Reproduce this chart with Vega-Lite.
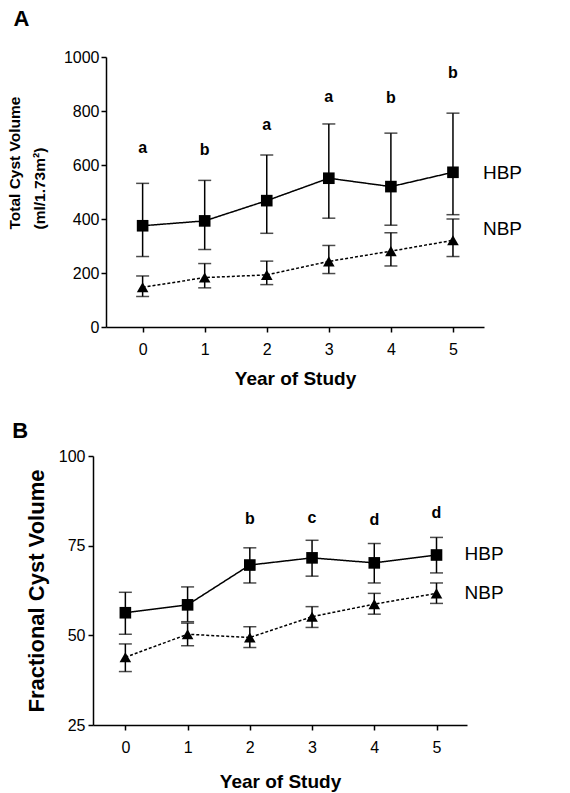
{
  "$schema": "https://vega.github.io/schema/vega-lite/v6.json",
  "padding": {"left": 7, "top": 8, "right": 5, "bottom": 5},
  "background": "white",
  "datasets": {
    "A": [
      {"year": 0, "group": "HBP", "mean": 375, "lo": 261, "hi": 532},
      {"year": 1, "group": "HBP", "mean": 393, "lo": 287, "hi": 543},
      {"year": 2, "group": "HBP", "mean": 468, "lo": 347, "hi": 637},
      {"year": 3, "group": "HBP", "mean": 551, "lo": 403, "hi": 752},
      {"year": 4, "group": "HBP", "mean": 520, "lo": 377, "hi": 718},
      {"year": 5, "group": "HBP", "mean": 573, "lo": 416, "hi": 792},
      {"year": 0, "group": "NBP", "mean": 147, "lo": 113, "hi": 189},
      {"year": 1, "group": "NBP", "mean": 183, "lo": 145, "hi": 235},
      {"year": 2, "group": "NBP", "mean": 193, "lo": 157, "hi": 244},
      {"year": 3, "group": "NBP", "mean": 243, "lo": 198, "hi": 302},
      {"year": 4, "group": "NBP", "mean": 281, "lo": 226, "hi": 349},
      {"year": 5, "group": "NBP", "mean": 321, "lo": 261, "hi": 400}
    ],
    "B": [
      {"year": 0, "group": "HBP", "mean": 56.3, "lo": 50.3, "hi": 62.0},
      {"year": 1, "group": "HBP", "mean": 58.5, "lo": 53.8, "hi": 63.5},
      {"year": 2, "group": "HBP", "mean": 69.6, "lo": 64.6, "hi": 74.4},
      {"year": 3, "group": "HBP", "mean": 71.6, "lo": 66.5, "hi": 76.5},
      {"year": 4, "group": "HBP", "mean": 70.2, "lo": 64.6, "hi": 75.6},
      {"year": 5, "group": "HBP", "mean": 72.4, "lo": 67.4, "hi": 77.3},
      {"year": 0, "group": "NBP", "mean": 43.9, "lo": 39.9, "hi": 47.6},
      {"year": 1, "group": "NBP", "mean": 50.3, "lo": 47.1, "hi": 53.4},
      {"year": 2, "group": "NBP", "mean": 49.4, "lo": 46.6, "hi": 52.4},
      {"year": 3, "group": "NBP", "mean": 55.2, "lo": 52.2, "hi": 58.0},
      {"year": 4, "group": "NBP", "mean": 58.7, "lo": 55.9, "hi": 61.7},
      {"year": 5, "group": "NBP", "mean": 61.7, "lo": 58.9, "hi": 64.6}
    ],
    "lettersA": [
      {"year": 0, "letter": "a", "value": 663},
      {"year": 1, "letter": "b", "value": 656},
      {"year": 2, "letter": "a", "value": 749},
      {"year": 3, "letter": "a", "value": 851},
      {"year": 4, "letter": "b", "value": 849},
      {"year": 5, "letter": "b", "value": 942}
    ],
    "lettersB": [
      {"year": 2, "letter": "b", "value": 82.4},
      {"year": 3, "letter": "c", "value": 82.8},
      {"year": 4, "letter": "d", "value": 82.1},
      {"year": 5, "letter": "d", "value": 84.0}
    ],
    "labelsA": [
      {"year": 5, "label": "HBP", "value": 572},
      {"year": 5, "label": "NBP", "value": 362}
    ],
    "labelsB": [
      {"year": 5, "label": "HBP", "value": 72.8},
      {"year": 5, "label": "NBP", "value": 61.9}
    ]
  },
  "spacing": 32,
  "vconcat": [
    {
      "width": 391,
      "height": 270,
      "title": {"text": "A", "anchor": "start", "frame": "bounds", "fontSize": 22, "fontWeight": "bold", "offset": 18, "dx": 6, "color": "black"},
      "layer": [
        {
          "data": {"name": "A"},
          "mark": {"type": "errorbar", "ticks": {"size": 13, "thickness": 1.5, "color": "black"}, "rule": {"strokeWidth": 1.5, "color": "black"}},
          "encoding": {
            "detail": {"field": "group"},
            "x": {"field": "year", "type": "quantitative", "scale": {"domain": [-0.59, 5.5], "range": [13, 391], "nice": false, "zero": false},
                  "axis": {"values": [0, 1, 2, 3, 4, 5], "format": "d", "title": "Year of Study", "titleFontSize": 19, "labelPadding": 9, "titlePadding": 12}},
            "y": {"field": "lo", "type": "quantitative", "scale": {"domain": [0, 1000], "nice": false},
                  "axis": {"values": [0, 200, 400, 600, 800, 1000], "format": "d", "offset": -13, "title": ["Total Cyst Volume", "(ml/1.73m²)"], "titleFontSize": 15.5, "titleLineHeight": 25, "titleAlign": "left", "titleY": 172, "labelPadding": 2, "titlePadding": 16}},
            "y2": {"field": "hi"}
          }
        },
        {
          "data": {"name": "A"},
          "mark": {"type": "line", "color": "black", "strokeWidth": 1.5},
          "encoding": {
            "x": {"field": "year", "type": "quantitative"},
            "y": {"field": "mean", "type": "quantitative", "title": ["Total Cyst Volume", "(ml/1.73m²)"]},
            "strokeDash": {"field": "group", "type": "nominal", "scale": {"domain": ["HBP", "NBP"], "range": [[1, 0], [3, 2]]}, "legend": null}
          }
        },
        {
          "data": {"name": "A"},
          "mark": {"type": "point", "filled": true, "color": "black", "opacity": 1, "size": 135},
          "encoding": {
            "x": {"field": "year", "type": "quantitative"},
            "y": {"field": "mean", "type": "quantitative", "title": ["Total Cyst Volume", "(ml/1.73m²)"]},
            "shape": {"field": "group", "type": "nominal", "scale": {"domain": ["HBP", "NBP"], "range": ["square", "triangle-up"]}, "legend": null}
          }
        },
        {
          "data": {"name": "lettersA"},
          "mark": {"type": "text", "fontSize": 16, "fontWeight": "bold", "color": "black", "baseline": "middle"},
          "encoding": {
            "x": {"field": "year", "type": "quantitative"},
            "y": {"field": "value", "type": "quantitative", "title": ["Total Cyst Volume", "(ml/1.73m²)"]},
            "text": {"field": "letter"}
          }
        },
        {
          "data": {"name": "labelsA"},
          "mark": {"type": "text", "fontSize": 19, "color": "black", "baseline": "middle", "align": "left", "dx": 30},
          "encoding": {
            "x": {"field": "year", "type": "quantitative"},
            "y": {"field": "value", "type": "quantitative", "title": ["Total Cyst Volume", "(ml/1.73m²)"]},
            "text": {"field": "label"}
          }
        }
      ]
    },
    {
      "width": 374,
      "height": 269,
      "title": {"text": "B", "anchor": "start", "frame": "bounds", "fontSize": 22, "fontWeight": "bold", "offset": 5, "dx": -13, "color": "black"},
      "layer": [
        {
          "data": {"name": "B"},
          "mark": {"type": "errorbar", "ticks": {"size": 13, "thickness": 1.5, "color": "black"}, "rule": {"strokeWidth": 1.5, "color": "black"}},
          "encoding": {
            "detail": {"field": "group"},
            "x": {"field": "year", "type": "quantitative", "scale": {"domain": [-0.52, 5.49], "nice": false, "zero": false},
                  "axis": {"values": [0, 1, 2, 3, 4, 5], "format": "d", "title": "Year of Study", "titleFontSize": 19, "labelPadding": 9, "titlePadding": 17}},
            "y": {"field": "lo", "type": "quantitative", "scale": {"domain": [25, 100], "nice": false, "zero": false},
                  "axis": {"values": [25, 50, 75, 100], "format": "d", "title": "Fractional Cyst Volume", "titleFontSize": 22, "labelPadding": 3, "titlePadding": 10}},
            "y2": {"field": "hi"}
          }
        },
        {
          "data": {"name": "B"},
          "mark": {"type": "line", "color": "black", "strokeWidth": 1.5},
          "encoding": {
            "x": {"field": "year", "type": "quantitative"},
            "y": {"field": "mean", "type": "quantitative", "title": "Fractional Cyst Volume"},
            "strokeDash": {"field": "group", "type": "nominal", "scale": {"domain": ["HBP", "NBP"], "range": [[1, 0], [3, 2]]}, "legend": null}
          }
        },
        {
          "data": {"name": "B"},
          "mark": {"type": "point", "filled": true, "color": "black", "opacity": 1, "size": 135},
          "encoding": {
            "x": {"field": "year", "type": "quantitative"},
            "y": {"field": "mean", "type": "quantitative", "title": "Fractional Cyst Volume"},
            "shape": {"field": "group", "type": "nominal", "scale": {"domain": ["HBP", "NBP"], "range": ["square", "triangle-up"]}, "legend": null}
          }
        },
        {
          "data": {"name": "lettersB"},
          "mark": {"type": "text", "fontSize": 16, "fontWeight": "bold", "color": "black", "baseline": "middle"},
          "encoding": {
            "x": {"field": "year", "type": "quantitative"},
            "y": {"field": "value", "type": "quantitative", "title": "Fractional Cyst Volume"},
            "text": {"field": "letter"}
          }
        },
        {
          "data": {"name": "labelsB"},
          "mark": {"type": "text", "fontSize": 19, "color": "black", "baseline": "middle", "align": "left", "dx": 28},
          "encoding": {
            "x": {"field": "year", "type": "quantitative"},
            "y": {"field": "value", "type": "quantitative", "title": "Fractional Cyst Volume"},
            "text": {"field": "label"}
          }
        }
      ]
    }
  ],
  "config": {
    "font": "Liberation Sans",
    "view": {"stroke": null},
    "axis": {
      "grid": false,
      "domainColor": "black",
      "domainWidth": 1.5,
      "tickColor": "black",
      "tickWidth": 1.5,
      "tickSize": 5,
      "labelColor": "black",
      "labelFontSize": 16,
      "labelFont": "Liberation Sans",
      "titleColor": "black",
      "titleFont": "Liberation Sans",
      "titleFontWeight": "bold"
    }
  }
}
